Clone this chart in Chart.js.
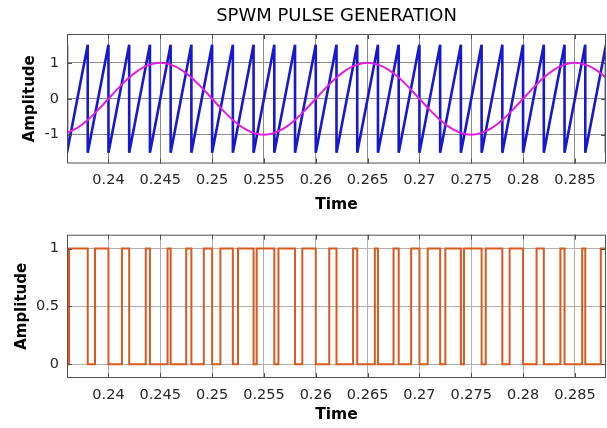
<!DOCTYPE html>
<html lang="en">
<head>
<meta charset="UTF-8">
<title>SPWM Pulse Generation</title>
<script src="https://cdn.jsdelivr.net/npm/chart.js"></script>
<style>
  body { margin: 0; background: #fff; }
  #graficoPortadora { position: absolute; left: 0; top: 0; }
  #graficoPulsos { position: absolute; left: 0; top: 218px; }
</style>
</head>
<body>

<canvas id="graficoPortadora" width="607" height="218"></canvas>
<canvas id="graficoPulsos" width="607" height="210"></canvas>

<script>
  // time window shown on both plots
  const timeMin = 0.236;
  const timeMax = 0.288;
  const timeTicks = [0.24, 0.245, 0.25, 0.255, 0.26, 0.265, 0.27, 0.275, 0.28, 0.285];
  const timeTickLabels = ['0.24', '0.245', '0.25', '0.255', '0.26', '0.265', '0.27', '0.275', '0.28', '0.285'];

  // carrier: rising sawtooth, drops from peak to trough at these times
  const carrierDropTimes = [0.236, 0.238, 0.240, 0.242, 0.244, 0.246, 0.248, 0.250, 0.252, 0.254,
    0.256, 0.258, 0.260, 0.262, 0.264, 0.266, 0.268, 0.270, 0.272, 0.274,
    0.276, 0.278, 0.280, 0.282, 0.284, 0.286, 0.288];
  const carrierPeak = 1.5;
  const carrierTrough = -1.5;

  // reference sine
  const sineTime = [0.236, 0.237, 0.238, 0.239, 0.240, 0.241, 0.242, 0.243, 0.244, 0.245,
    0.246, 0.247, 0.248, 0.249, 0.250, 0.251, 0.252, 0.253, 0.254, 0.255,
    0.256, 0.257, 0.258, 0.259, 0.260, 0.261, 0.262, 0.263, 0.264, 0.265,
    0.266, 0.267, 0.268, 0.269, 0.270, 0.271, 0.272, 0.273, 0.274, 0.275,
    0.276, 0.277, 0.278, 0.279, 0.280, 0.281, 0.282, 0.283, 0.284, 0.285,
    0.286, 0.287, 0.288];
  const sineValues = [-0.95, -0.81, -0.59, -0.31, 0, 0.31, 0.59, 0.81, 0.95, 1,
    0.95, 0.81, 0.59, 0.31, 0, -0.31, -0.59, -0.81, -0.95, -1,
    -0.95, -0.81, -0.59, -0.31, 0, 0.31, 0.59, 0.81, 0.95, 1,
    0.95, 0.81, 0.59, 0.31, 0, -0.31, -0.59, -0.81, -0.95, -1,
    -0.95, -0.81, -0.59, -0.31, 0, 0.31, 0.59, 0.81, 0.95, 1,
    0.95, 0.81, 0.59];

  // pulse train: goes to 1 at each rise, back to 0 at the matching fall
  const pulseStart = 0.236;
  const pulseRise = [0.2362, 0.2387, 0.2413, 0.2436, 0.2457, 0.2475, 0.2492, 0.2508, 0.2525, 0.2543,
    0.2564, 0.2587, 0.2613, 0.2636, 0.2657, 0.2675, 0.2692, 0.2708, 0.2725, 0.2743,
    0.2764, 0.2787, 0.2813, 0.2836, 0.2857, 0.2875];
  const pulseFall = [0.238, 0.240, 0.242, 0.244, 0.246, 0.248, 0.250, 0.252, 0.254, 0.256,
    0.258, 0.260, 0.262, 0.264, 0.266, 0.268, 0.270, 0.272, 0.274, 0.276,
    0.278, 0.280, 0.282, 0.284, 0.286, 0.288];

  const ampTicksTop = [-1, 0, 1];
  const ampLabelsTop = ['-1', '0', '1'];
  const ampTicksBottom = [0, 0.5, 1];
  const ampLabelsBottom = ['0', '0.5', '1'];

  Chart.defaults.font.family = "'DejaVu Sans', sans-serif";
  Chart.defaults.color = '#262626';

  // MATLAB style box with inward ticks
  const caixaEixos = {
    id: 'caixaEixos',
    afterDatasetsDraw(chart) {
      const { ctx, chartArea: a, scales } = chart;
      ctx.save();
      ctx.strokeStyle = '#505050';
      ctx.lineWidth = 1;
      ctx.strokeRect(a.left + 0.5, a.top + 0.5, a.right - a.left - 1, a.bottom - a.top - 1);
      ctx.beginPath();
      scales.x.ticks.forEach(t => {
        const px = Math.round(scales.x.getPixelForValue(t.value)) + 0.5;
        ctx.moveTo(px, a.top); ctx.lineTo(px, a.top + 5);
        ctx.moveTo(px, a.bottom); ctx.lineTo(px, a.bottom - 5);
      });
      scales.y.ticks.forEach(t => {
        const py = Math.round(scales.y.getPixelForValue(t.value)) + 0.5;
        ctx.moveTo(a.left, py); ctx.lineTo(a.left + 5, py);
        ctx.moveTo(a.right, py); ctx.lineTo(a.right - 5, py);
      });
      ctx.stroke();
      ctx.restore();
    }
  };

  function eixoTempo(altura, corGrade) {
    return {
      type: 'linear',
      min: timeMin,
      max: timeMax,
      afterBuildTicks: ax => { ax.ticks = timeTicks.map(v => ({ value: v })); },
      afterFit: ax => { ax.height = altura; },
      grid: { color: corGrade, drawTicks: false },
      border: { display: false },
      ticks: {
        autoSkip: false,
        maxRotation: 0,
        padding: 8.5,
        font: { size: 14.5 },
        callback: (v, i) => timeTickLabels[i]
      },
      title: {
        display: true,
        text: 'Time',
        color: '#000',
        font: { size: 15.5, weight: 'bold' },
        padding: { top: 0, bottom: 3.7 }
      }
    };
  }

  function eixoAmplitude(min, max, valores, rotulos, offsetTitulo, corGrade) {
    return {
      min: min,
      max: max,
      afterBuildTicks: ax => { ax.ticks = valores.map(v => ({ value: v })); },
      afterFit: ax => { ax.width = 67; },
      grid: { color: corGrade, drawTicks: false },
      border: { display: false },
      ticks: {
        padding: 8,
        font: { size: 14.5 },
        callback: (v, i) => rotulos[i]
      },
      title: {
        display: true,
        text: 'Amplitude',
        color: '#000',
        font: { size: 15, weight: 'bold' },
        padding: { top: offsetTitulo, bottom: 0 }
      }
    };
  }

  const carrierPoints = [];
  carrierDropTimes.forEach(t => {
    carrierPoints.push({ x: t, y: carrierPeak }, { x: t, y: carrierTrough });
  });
  const sinePoints = sineTime.map((t, i) => ({ x: t, y: sineValues[i] }));

  const pulsePoints = [{ x: pulseStart, y: 0 }];
  pulseRise.forEach((t, i) => {
    pulsePoints.push({ x: t, y: 1 }, { x: pulseFall[i], y: 0 });
  });

  new Chart(document.getElementById('graficoPortadora'), {
    type: 'line',
    data: {
      datasets: [
        {
          label: 'Reference',
          data: sinePoints,
          borderColor: '#e020e0',
          borderWidth: 2,
          pointRadius: 0,
          cubicInterpolationMode: 'monotone',
          clip: 0,
          order: 0
        },
        {
          label: 'Carrier',
          data: carrierPoints,
          borderColor: '#1818d0',
          borderWidth: 2.6,
          pointRadius: 0,
          tension: 0,
          clip: 0,
          order: 1
        }
      ]
    },
    options: {
      responsive: false,
      animation: false,
      layout: { padding: { top: 0, right: 1, bottom: 0, left: 0 } },
      plugins: {
        legend: { display: false },
        tooltip: { enabled: false },
        title: {
          display: true,
          fullSize: false,
          text: 'SPWM PULSE GENERATION',
          color: '#000',
          font: { size: 18, weight: 'normal' },
          padding: { top: 6, bottom: 6.4 }
        }
      },
      scales: {
        x: eixoTempo(54.5, '#8c8c8c'),
        y: eixoAmplitude(-1.8, 1.8, ampTicksTop, ampLabelsTop, 21, '#8c8c8c')
      }
    },
    plugins: [caixaEixos]
  });

  new Chart(document.getElementById('graficoPulsos'), {
    type: 'line',
    data: {
      datasets: [{
        label: 'SPWM',
        data: pulsePoints,
        borderColor: '#d95a1e',
        borderWidth: 2,
        pointRadius: 0,
        stepped: true,
        clip: 0
      }]
    },
    options: {
      responsive: false,
      animation: false,
      layout: { padding: { top: 8.7, right: 1, bottom: 0, left: 0 } },
      plugins: {
        legend: { display: false },
        tooltip: { enabled: false }
      },
      scales: {
        x: eixoTempo(50, '#b0b0b0'),
        y: eixoAmplitude(-0.12, 1.12, ampTicksBottom, ampLabelsBottom, 13, '#b0b0b0')
      }
    },
    plugins: [caixaEixos]
  });
</script>
</body>
</html>
